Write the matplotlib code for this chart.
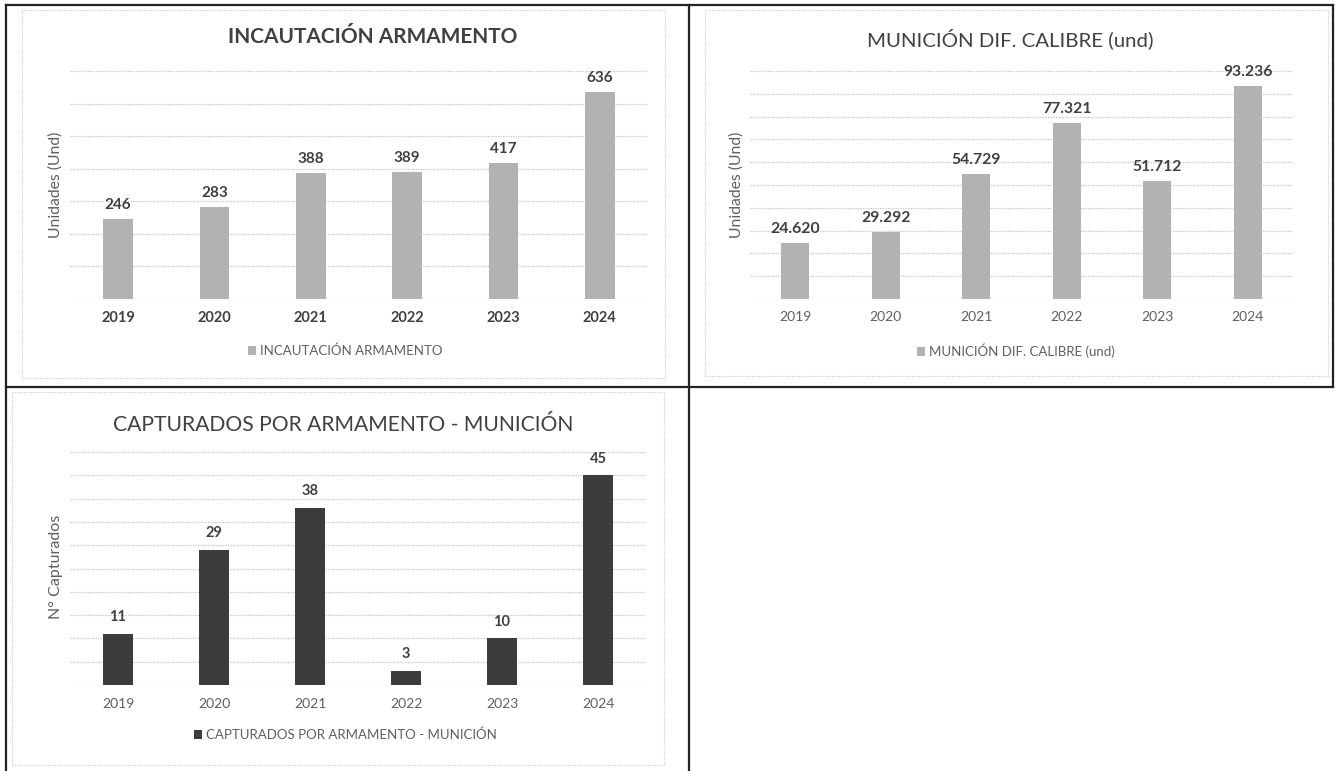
import matplotlib
matplotlib.use('Agg')
import matplotlib.pyplot as plt
from matplotlib.lines import Line2D
from matplotlib.patches import Rectangle

plt.rcParams['font.family'] = ['Lato', 'DejaVu Sans']

W, H = 1337, 771

# data
years = ['2019', '2020', '2021', '2022', '2023', '2024']
armamento = [246, 283, 388, 389, 417, 636]
municion = [24620, 29292, 54729, 77321, 51712, 93236]
capturados = [11, 29, 38, 3, 10, 45]

light_gray = '#b2b2b2'
dark_gray = '#3c3c3c'
grid_col = '#c4c4c4'
txt = '#404040'
txt2 = '#5f5f5f'


def fx(x):
    return x / W


def fy(y):
    return 1 - y / H


def box(x0, y0, x1, y1):
    # pixel box -> axes rect
    return [fx(x0), fy(y1), fx(x1) - fx(x0), fy(y0) - fy(y1)]


def fmt_dot(v):
    return f'{v:,}'.replace(',', '.')


fig = plt.figure(figsize=(W / 100, H / 100), dpi=100)

# table lines
for (x0, y0, x1, y1) in [(6, 5, 1333, 5), (6, 5, 6, 771), (689, 5, 689, 771),
                         (6, 387, 1333, 387), (1333, 5, 1333, 387)]:
    fig.add_artist(Line2D([fx(x0), fx(x1)], [fy(y0), fy(y1)], color='#222222', lw=1.6))

# dotted chart frames
for (x0, y0, x1, y1) in [(22, 10, 665, 378), (705, 10, 1328, 376), (12, 392, 664, 765)]:
    fig.add_artist(Rectangle((fx(x0), fy(y1)), fx(x1) - fx(x0), fy(y0) - fy(y1),
                             transform=fig.transFigure, fill=False,
                             edgecolor='#cfcfcf', lw=0.8, linestyle=(0, (1, 1))))


def make_chart(rect, vals, ymax, step, color, labels, tick_bold, tick_col, lab_off, tick_fs, lab_fs):
    ax = fig.add_axes(rect)
    x = range(len(vals))
    bars = ax.bar(x, vals, width=0.31, color=color, zorder=2)
    ax.set_xlim(-0.5, len(vals) - 0.5)
    ax.set_ylim(0, ymax)
    ax.set_yticks(range(0, ymax + 1, step))
    ax.set_yticklabels([])
    ax.tick_params(axis='y', length=0)
    ax.set_xticks(list(x))
    ax.set_xticklabels(years, fontsize=tick_fs, color=tick_col,
                       fontweight='bold' if tick_bold else 'normal')
    ax.tick_params(axis='x', length=0, pad=9)
    ax.yaxis.grid(True, color=grid_col, linestyle=(0, (1, 1)), lw=0.9, zorder=0)
    for s in ax.spines.values():
        s.set_visible(False)
    for i, v in enumerate(vals):
        ax.annotate(labels[i], (i, v), xytext=(0, lab_off), textcoords='offset points',
                    ha='center', va='bottom', fontsize=lab_fs, fontweight='bold', color=txt)
    return ax, bars


# chart 1
ax1, b1 = make_chart(box(70, 71, 648, 299), armamento, 700, 100, light_gray,
                     [str(v) for v in armamento], True, txt, 5, 10.5, 11)
fig.text(fx(373), fy(37), 'INCAUTACIÓN ARMAMENTO', ha='center', va='center',
         fontsize=15, fontweight='bold', color=txt)
fig.text(fx(56), fy(185), 'Unidades (Und)', rotation=90, ha='center', va='center',
         fontsize=11.3, color=txt2)
ax1.legend([b1], ['INCAUTACIÓN ARMAMENTO'], loc='center', bbox_to_anchor=(fx(345), fy(351)),
           bbox_transform=fig.transFigure, frameon=False, fontsize=9.5, handlelength=0.6,
           handleheight=0.6, handletextpad=0.3, labelcolor=txt2)

# chart 2
ax2, b2 = make_chart(box(750, 71, 1293, 299), municion, 100000, 10000, light_gray,
                     [fmt_dot(v) for v in municion], False, txt2, 5, 10, 11.3)
fig.text(fx(1010), fy(39), 'MUNICIÓN DIF. CALIBRE (und)', ha='center', va='center',
         fontsize=14.7, color=txt)
fig.text(fx(737), fy(185), 'Unidades (Und)', rotation=90, ha='center', va='center',
         fontsize=11.3, color=txt2)
ax2.legend([b2], ['MUNICIÓN DIF. CALIBRE (und)'], loc='center', bbox_to_anchor=(fx(1016), fy(351)),
           bbox_transform=fig.transFigure, frameon=False, fontsize=9.5, handlelength=0.6,
           handleheight=0.6, handletextpad=0.3, labelcolor=txt2)

# chart 3
ax3, b3 = make_chart(box(70, 452, 646, 685), capturados, 50, 5, dark_gray,
                     [str(v) for v in capturados], False, txt2, 7, 10, 10.5)
fig.text(fx(343), fy(425), 'CAPTURADOS POR ARMAMENTO - MUNICIÓN', ha='center', va='center',
         fontsize=15.2, color=txt)
fig.text(fx(56), fy(567), 'N° Capturados', rotation=90, ha='center', va='center',
         fontsize=11.5, color=txt2)
ax3.legend([b3], ['CAPTURADOS POR ARMAMENTO - MUNICIÓN'], loc='center', bbox_to_anchor=(fx(345), fy(735)),
           bbox_transform=fig.transFigure, frameon=False, fontsize=9.5, handlelength=0.6,
           handleheight=0.6, handletextpad=0.3, labelcolor=txt2)

fig.savefig('out.png', dpi=100)
